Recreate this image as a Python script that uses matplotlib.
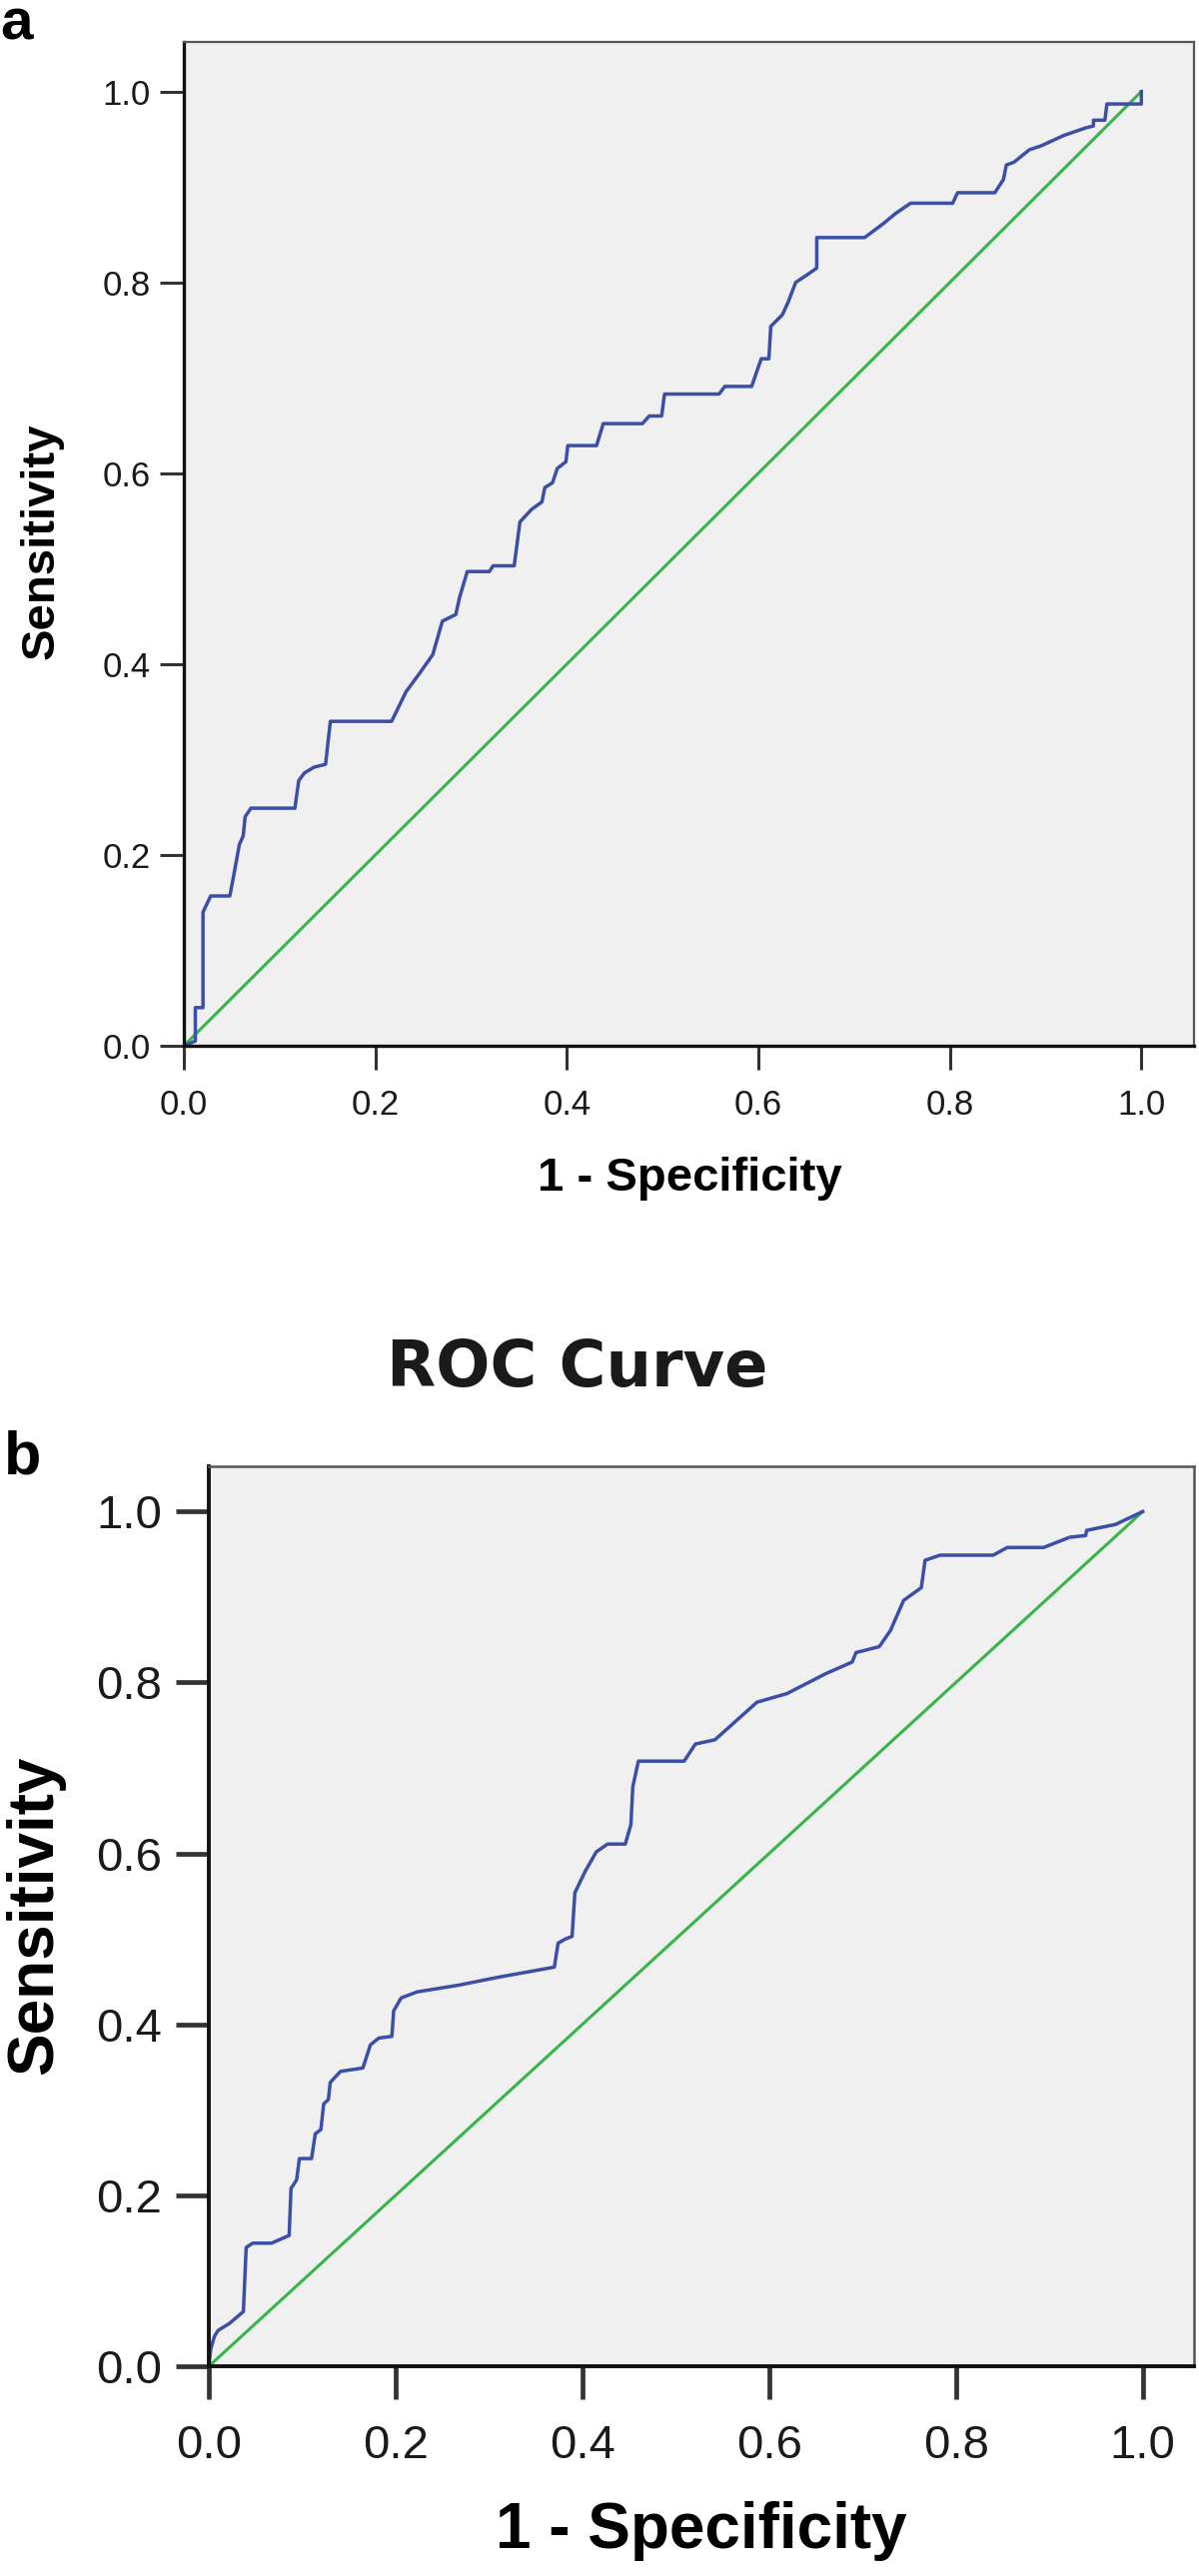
import matplotlib.pyplot as plt

# Data kurva ROC panel a (1 - Specificity, Sensitivity)
fpr_a = [0.0, 0.012, 0.012, 0.02, 0.02, 0.028, 0.048, 0.052, 0.058, 0.062, 0.064, 0.07,
         0.116, 0.12, 0.126, 0.136, 0.148, 0.153, 0.217, 0.232, 0.246, 0.26, 0.27, 0.284,
         0.288, 0.296, 0.319, 0.323, 0.345, 0.351, 0.363, 0.374, 0.377, 0.385, 0.39, 0.399,
         0.401, 0.431, 0.438, 0.479, 0.486, 0.499, 0.502, 0.559, 0.565, 0.593, 0.603, 0.611,
         0.613, 0.625, 0.631, 0.639, 0.651, 0.661, 0.661, 0.711, 0.731, 0.743, 0.759, 0.803,
         0.808, 0.847, 0.856, 0.859, 0.867, 0.883, 0.895, 0.919, 0.942, 0.95, 0.95, 0.962,
         0.964, 1.0, 1.0]
tpr_a = [0.0, 0.005, 0.04, 0.04, 0.14, 0.157, 0.157, 0.178, 0.211, 0.22, 0.24, 0.249,
         0.249, 0.278, 0.286, 0.292, 0.295, 0.34, 0.34, 0.371, 0.39, 0.41, 0.445, 0.452,
         0.47, 0.497, 0.497, 0.503, 0.503, 0.549, 0.562, 0.57, 0.585, 0.59, 0.605, 0.612,
         0.629, 0.629, 0.652, 0.652, 0.66, 0.66, 0.683, 0.683, 0.691, 0.691, 0.72, 0.72,
         0.754, 0.766, 0.779, 0.8, 0.808, 0.815, 0.847, 0.847, 0.862, 0.872, 0.883, 0.883,
         0.894, 0.894, 0.908, 0.923, 0.926, 0.939, 0.943, 0.954, 0.962, 0.964, 0.97, 0.97,
         0.987, 0.987, 1.0]

# Data kurva ROC panel b
fpr_b = [0.0, 0.002, 0.006, 0.01, 0.022, 0.037, 0.04, 0.047, 0.067, 0.086, 0.088, 0.094,
         0.097, 0.11, 0.114, 0.12, 0.123, 0.128, 0.13, 0.141, 0.165, 0.173, 0.182, 0.196,
         0.198, 0.206, 0.223, 0.268, 0.309, 0.37, 0.374, 0.382, 0.389, 0.392, 0.403, 0.415,
         0.427, 0.446, 0.452, 0.454, 0.46, 0.509, 0.521, 0.542, 0.587, 0.619, 0.66, 0.689,
         0.693, 0.718, 0.73, 0.744, 0.763, 0.767, 0.783, 0.84, 0.855, 0.894, 0.922, 0.939,
         0.94, 0.971, 1.0]
tpr_b = [0.0, 0.02, 0.035, 0.042, 0.05, 0.064, 0.139, 0.144, 0.144, 0.153, 0.208, 0.218,
         0.243, 0.243, 0.272, 0.277, 0.307, 0.312, 0.332, 0.345, 0.349, 0.376, 0.384, 0.386,
         0.416, 0.431, 0.438, 0.446, 0.455, 0.467, 0.495, 0.5, 0.503, 0.554, 0.579, 0.602,
         0.611, 0.611, 0.634, 0.678, 0.708, 0.708, 0.728, 0.733, 0.777, 0.787, 0.81, 0.824,
         0.835, 0.842, 0.861, 0.896, 0.911, 0.943, 0.949, 0.949, 0.958, 0.958, 0.97, 0.972,
         0.978, 0.985, 1.0]

# Garis referensi (diagonal)
ref_x = [0, 1]
ref_y = [0, 1]

ticks = [0.0, 0.2, 0.4, 0.6, 0.8, 1.0]
tick_labels = ['0.0', '0.2', '0.4', '0.6', '0.8', '1.0']

biru = '#3b4fa6'
hijau = '#38b54a'

W, H = 1200, 2579
fig = plt.figure(figsize=(W / 100, H / 100), dpi=100)


def px(x, y):
    # ubah koordinat piksel (dari kiri atas) ke fraksi figure
    return x / W, 1 - y / H


def gaya_sumbu(ax, tick_size, tlen, twidth, pad_x, pad_y, lw_lb, lw_tr):
    ax.set_facecolor('#f0f0f0')
    ax.set_xlim(0, 1.055)
    ax.set_xticks(ticks)
    ax.set_yticks(ticks)
    ax.set_xticklabels(tick_labels, family='Liberation Sans', size=tick_size, color='#1a1a1a')
    ax.set_yticklabels(tick_labels, family='Liberation Sans', size=tick_size, color='#1a1a1a')
    ax.tick_params(axis='both', length=tlen, width=twidth, color='#333333')
    ax.tick_params(axis='x', pad=pad_x)
    ax.tick_params(axis='y', pad=pad_y)
    for s in ['left', 'bottom']:
        ax.spines[s].set_linewidth(lw_lb)
        ax.spines[s].set_color('#111111')
    for s in ['top', 'right']:
        ax.spines[s].set_linewidth(lw_tr)
        ax.spines[s].set_color('#555555')


# Panel a
l, b = px(184, 1047)
ax1 = fig.add_axes([l, b, 1011 / W, 1005 / H])
ax1.plot(ref_x, ref_y, color=hijau, linewidth=2.2)
ax1.plot(fpr_a, tpr_a, color=biru, linewidth=2.5)
ax1.set_ylim(0, 1.052)
gaya_sumbu(ax1, 25, 17, 2.2, 14, 7, 2.4, 1.6)

x, y = px(690, 1180)
fig.text(x, y, '1 - Specificity', ha='center', va='center', family='Liberation Sans',
         weight='bold', size=34)
x, y = px(42, 542)
fig.text(x, y, 'Sensitivity', ha='center', va='center', rotation=90,
         family='Liberation Sans', weight='bold', size=34)
x, y = px(0, 39)
fig.text(x, y, 'a', ha='left', va='baseline', family='Liberation Sans', weight='bold', size=42)

# Panel b
l, b = px(209, 2369)
ax2 = fig.add_axes([l, b, 986 / W, 901 / H])
ax2.plot(ref_x, ref_y, color=hijau, linewidth=2.2)
ax2.plot(fpr_b, tpr_b, color=biru, linewidth=2.5)
ax2.set_ylim(0, 1.053)
gaya_sumbu(ax2, 34, 24, 3.4, 18, 10, 2.8, 1.8)

x, y = px(578, 1370)
fig.text(x, y, 'ROC Curve', ha='center', va='center', family='DejaVu Sans',
         weight='bold', size=46, color='#1a1a1a')
x, y = px(702, 2534)
fig.text(x, y, '1 - Specificity', ha='center', va='center', family='Liberation Sans',
         weight='bold', size=46)
x, y = px(35, 1917)
fig.text(x, y, 'Sensitivity', ha='center', va='center', rotation=90,
         family='Liberation Sans', weight='bold', size=46)
x, y = px(4, 1475)
fig.text(x, y, 'b', ha='left', va='baseline', family='Liberation Sans', weight='bold', size=44)

fig.savefig('out.png', dpi=100)
